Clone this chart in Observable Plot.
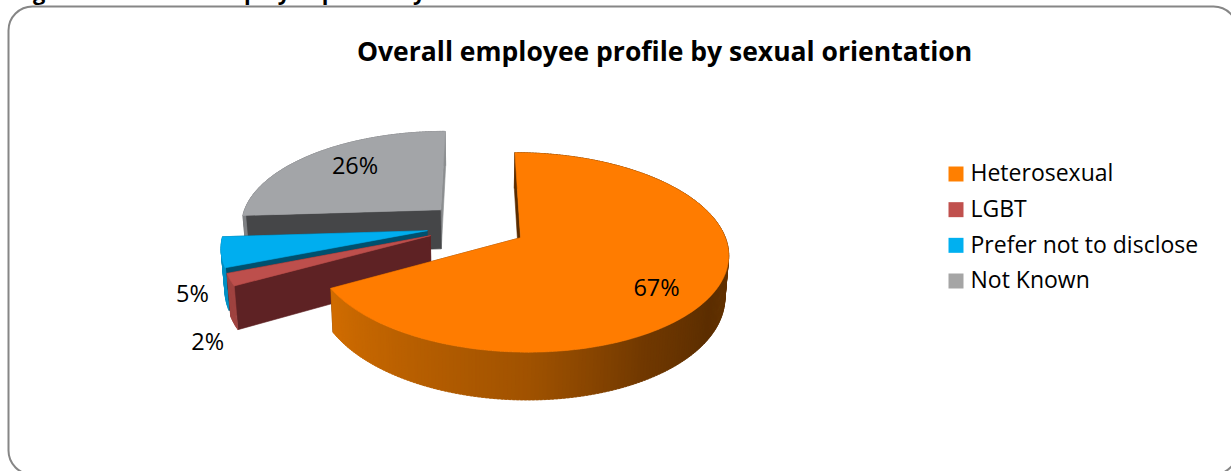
<!DOCTYPE html>
<html>
<head>
<meta charset="utf-8">
<script src="https://cdn.jsdelivr.net/npm/d3@7"></script>
<script src="https://cdn.jsdelivr.net/npm/@observablehq/plot@0.6"></script>
<style>
  html, body { margin: 0; padding: 0; background: #fff; }
  svg { display: block; }
</style>
</head>
<body>
<div id="chart"></div>
<script>
// Workforce shares, in percent
const categories = ["Heterosexual", "LGBT", "Prefer not to disclose", "Not Known"];
const shares = [67, 2, 5, 26];

// Colours of each slice: top face, cut wall near the start, cut wall near the end
const topColours = ["#ff7c00", "#bd4f4c", "#00aeef", "#a3a5a8"];
const legendColours = ["#ff7f00", "#c0504d", "#00b0f0", "#a5a5a5"];
const startWallColours = ["#5a2c00", "#5e2224", "#00506e", "#454648"];
const endWallColours = ["#5a2c00", "#5e2224", "#00506e", "#8c8e90"];
const rimColours = ["", "#a04340", "#0090c4", "#808285"];

// Shading of the orange rim, by angle around the pie in degrees
const rimAngles = [60, 90, 125, 150, 180, 240];
const rimShades = ["#6a3600", "#683400", "#5c2e00", "#703800", "#a05200", "#d06c00"];

// Label placement relative to each slice's mid-angle
const labelRadius = [0.77, 1.31, 1.2, 0.71];
const labelTurn = [8, -21, -18, 4];

const W = 1231, H = 471;
const FONT = "'Open Sans', Lato, sans-serif";

// Perspective camera for the tilted disc
const view = {cx: 476, cy: 225, rx: 201, ry: 94, k: 0.145, depth: 40, shrink: 0.985, explode: 0.25};

const project = (u, v, lower = false) => {
  const w = 1 - view.k * v;
  return lower
    ? {x: view.cx + (view.rx * u * view.shrink) / w, y: view.cy + (view.ry * v + view.depth) / w}
    : {x: view.cx + (view.rx * u) / w, y: view.cy + (view.ry * v) / w};
};

const slices = d3.pie().sort(null)(shares);

const rimShade = d3.scaleLinear().domain(rimAngles).range(rimShades).clamp(true);

// Rings of points that Plot.line fills, one per face; z keeps them apart and sets paint order
const faces = [];
const addFace = (id, fill, pts) => {
  [...pts, pts[0]].forEach((p) => faces.push({id, fill, x: p.x, y: p.y}));
};

const drawOrder = [3, 2, 1, 0];
const labelPoints = [];

for (const i of drawOrder) {
  const s = slices[i];
  const mid = (s.startAngle + s.endAngle) / 2;
  const ou = view.explode * Math.sin(mid);
  const ov = -view.explode * Math.cos(mid);
  const at = (a, r = 1) => [ou + r * Math.sin(a), ov - r * Math.cos(a)];

  const wall = (a, id, fill) => {
    const [u, v] = at(a);
    addFace(id, fill, [
      project(ou, ov), project(u, v), project(u, v, true), project(ou, ov, true)
    ]);
  };

  // Outer rim as short overlapping strips so its shade can follow the angle
  const span = s.endAngle - s.startAngle;
  const steps = Math.max(8, Math.round(span * 60));
  const strip = (n) => {
    const a0 = s.startAngle + (span * n) / steps;
    const a1 = Math.min(s.endAngle, s.startAngle + (span * (n + 1.6)) / steps);
    const [u0, v0] = at(a0), [u1, v1] = at(a1);
    const deg = (((a0 + a1) / 2) * 180) / Math.PI;
    addFace(`rim-${i}-${n}`, i === 0 ? rimShade(deg) : rimColours[i], [
      project(u0, v0), project(u1, v1), project(u1, v1, true), project(u0, v0, true)
    ]);
  };
  const isBack = (n) => Math.cos(s.startAngle + (span * (n + 0.5)) / steps) > 0;

  // Back of the rim first, then the cut walls, then the front of the rim
  d3.range(steps).filter(isBack).forEach(strip);
  wall(s.endAngle, `end-${i}`, endWallColours[i]);
  wall(s.startAngle, `start-${i}`, startWallColours[i]);
  d3.range(steps).filter((n) => !isBack(n)).forEach(strip);

  // Top face
  const ring = [project(ou, ov)];
  for (let n = 0; n <= steps; ++n) {
    const [u, v] = at(s.startAngle + (span * n) / steps);
    ring.push(project(u, v));
  }
  addFace(`top-${i}`, topColours[i], ring);

  const la = mid + (labelTurn[i] * Math.PI) / 180;
  const [lu, lv] = at(la, labelRadius[i]);
  labelPoints[i] = {...project(lu, lv), text: `${shares[i]}%`};
}

const legendRows = categories.map((name, i) => ({name, fill: legendColours[i], row: i}));
const legendY = d3.scaleLinear().domain([0, 3]).range([173.5, 280.5]);

const chart = Plot.plot({
  width: W,
  height: H,
  margin: 0,
  x: {domain: [0, W], range: [0, W], axis: null},
  y: {domain: [0, H], range: [0, H], axis: null},
  style: {background: "#fff", fontFamily: FONT},
  marks: [
    // Rounded chart border, running just past the page on the right and bottom
    Plot.frame({stroke: "#868686", strokeWidth: 2, rx: 24, insetLeft: 8, insetTop: 6, insetRight: -6, insetBottom: -3}),
    // Caption of the preceding page, only its lower edge shows
    Plot.text(["Figure 6.3 Overall employee profile by sexual orientation"], {
      x: 14, y: -0.6, textAnchor: "start", lineAnchor: "bottom",
      fontSize: 21.8, fontWeight: 700, fill: "#000"
    }),
    Plot.text(["Overall employee profile by sexual orientation"], {
      x: 664, y: 52, textAnchor: "middle", fontSize: 26.5, fontWeight: 700, fill: "#000"
    }),
    Plot.line(faces, {
      x: "x", y: "y", z: "id",
      fill: {value: "fill", scale: null},
      stroke: {value: "fill", scale: null},
      strokeWidth: 0.6
    }),
    Plot.text(labelPoints, {x: "x", y: "y", text: "text", fontSize: 23.5, fill: "#000"}),
    Plot.dot(legendRows, {
      x: () => 955.5, y: (d) => legendY(d.row), symbol: "square", r: 8.46,
      fill: {value: "fill", scale: null}
    }),
    Plot.text(legendRows, {
      x: () => 970, y: (d) => legendY(d.row), text: "name",
      textAnchor: "start", fontSize: 23, fill: "#000"
    })
  ]
});

document.getElementById("chart").append(chart);
</script>
</body>
</html>
